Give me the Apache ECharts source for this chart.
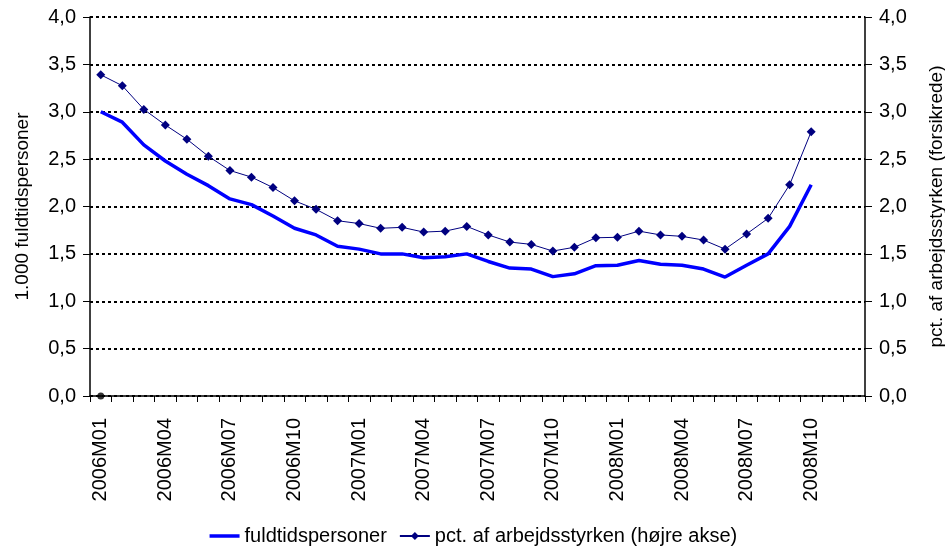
<!DOCTYPE html>
<html>
<head>
<meta charset="utf-8">
<script src="https://cdn.jsdelivr.net/npm/echarts@6/dist/echarts.min.js"></script>
<style>
html, body { margin: 0; padding: 0; background: #fff; }
#main { width: 945px; height: 547px; }
</style>
</head>
<body>
<div id="main"></div>
<script>
// maaneder 2006M01 - 2008M12 (data kun til 2008M10)
var months = [];
for (var y = 2006; y <= 2008; y++) {
	for (var m = 1; m <= 12; m++) {
		months.push(y + 'M' + (m < 10 ? '0' + m : m));
	}
}

// 1.000 fuldtidspersoner
var fuldtid = [3.00, 2.89, 2.65, 2.48, 2.34, 2.22, 2.08, 2.02, 1.90, 1.77,
	1.70, 1.58, 1.55, 1.50, 1.50, 1.46, 1.47, 1.50, 1.42, 1.35,
	1.34, 1.26, 1.29, 1.375, 1.38, 1.43, 1.39, 1.38, 1.34, 1.255,
	1.38, 1.50, 1.79, 2.23];

// pct. af arbejdsstyrken (hoejre akse)
var pct = [3.39, 3.275, 3.025, 2.86, 2.71, 2.53, 2.38, 2.31, 2.20, 2.06,
	1.97, 1.85, 1.82, 1.77, 1.78, 1.73, 1.74, 1.79, 1.70, 1.625,
	1.60, 1.53, 1.57, 1.67, 1.675, 1.74, 1.70, 1.685, 1.646, 1.55,
	1.71, 1.875, 2.23, 2.79];

var origo = [0];

var fmt = function (v) { return v.toFixed(1).replace('.', ','); };
var font = 'Liberation Sans, Arial, sans-serif';

var myChart = echarts.init(document.getElementById('main'));
var option = {
	animation: false,
	textStyle: { fontFamily: font },
	grid: {
		left: 90,
		right: 80,
		top: 17,
		bottom: 151,
		containLabel: false,
		outerBoundsMode: 'none'
	},
	legend: {
		left: 'center',
		top: 521,
		itemWidth: 30,
		itemHeight: 10,
		itemGap: 12,
		textStyle: { fontSize: 20, color: '#000', fontFamily: font },
		data: [
			{
				name: 'fuldtidspersoner',
				icon: 'line',
				itemStyle: { color: '#0000ff', borderColor: '#0000ff', borderWidth: 3.5 }
			},
			'pct. af arbejdsstyrken (højre akse)'
		]
	},
	xAxis: {
		type: 'category',
		data: months,
		boundaryGap: true,
		axisLine: { lineStyle: { color: '#000', width: 1.5 } },
		axisTick: { show: true, interval: 0, length: 6, lineStyle: { color: '#000' } },
		axisLabel: {
			interval: 2,
			rotate: 90,
			margin: 22,
			fontSize: 20,
			color: '#000',
			fontFamily: font
		},
		splitLine: { show: false }
	},
	yAxis: [{
		type: 'value',
		min: 0,
		max: 4,
		interval: 0.5,
		position: 'left',
		name: '1.000 fuldtidspersoner',
		nameLocation: 'middle',
		nameRotate: 90,
		nameGap: 58,
		nameTextStyle: { fontSize: 19, color: '#000', fontFamily: font },
		axisLine: { show: true, lineStyle: { color: '#000', width: 1.5 } },
		axisTick: { show: true, length: 7, lineStyle: { color: '#000' } },
		axisLabel: { formatter: fmt, fontSize: 20, color: '#000', margin: 14, fontFamily: font },
		splitLine: { show: true, lineStyle: { color: '#000', type: [3, 3], width: 2 } }
	}, {
		type: 'value',
		min: 0,
		max: 4,
		interval: 0.5,
		position: 'right',
		name: 'pct. af arbejdsstyrken (forsikrede)',
		nameLocation: 'middle',
		nameRotate: 90,
		nameGap: 62,
		nameTextStyle: { fontSize: 19, color: '#000', fontFamily: font },
		axisLine: { show: true, lineStyle: { color: '#000', width: 1.5 } },
		axisTick: { show: true, length: 7, lineStyle: { color: '#000' } },
		axisLabel: { formatter: fmt, fontSize: 20, color: '#000', margin: 14, fontFamily: font },
		splitLine: { show: false }
	}],
	series: [{
		name: 'fuldtidspersoner',
		type: 'line',
		yAxisIndex: 0,
		symbol: 'none',
		color: '#0000ff',
		lineStyle: { color: '#0000ff', width: 3.5 },
		data: fuldtid
	}, {
		name: 'pct. af arbejdsstyrken (højre akse)',
		type: 'line',
		yAxisIndex: 1,
		symbol: 'diamond',
		symbolSize: 9,
		color: '#000080',
		itemStyle: { color: '#000080' },
		lineStyle: { color: '#000080', width: 1 },
		data: pct
	}, {
		name: 'origo',
		type: 'scatter',
		yAxisIndex: 0,
		symbol: 'circle',
		symbolSize: 7,
		itemStyle: { color: '#000' },
		data: origo
	}]
};
myChart.setOption(option);
</script>
</body>
</html>
